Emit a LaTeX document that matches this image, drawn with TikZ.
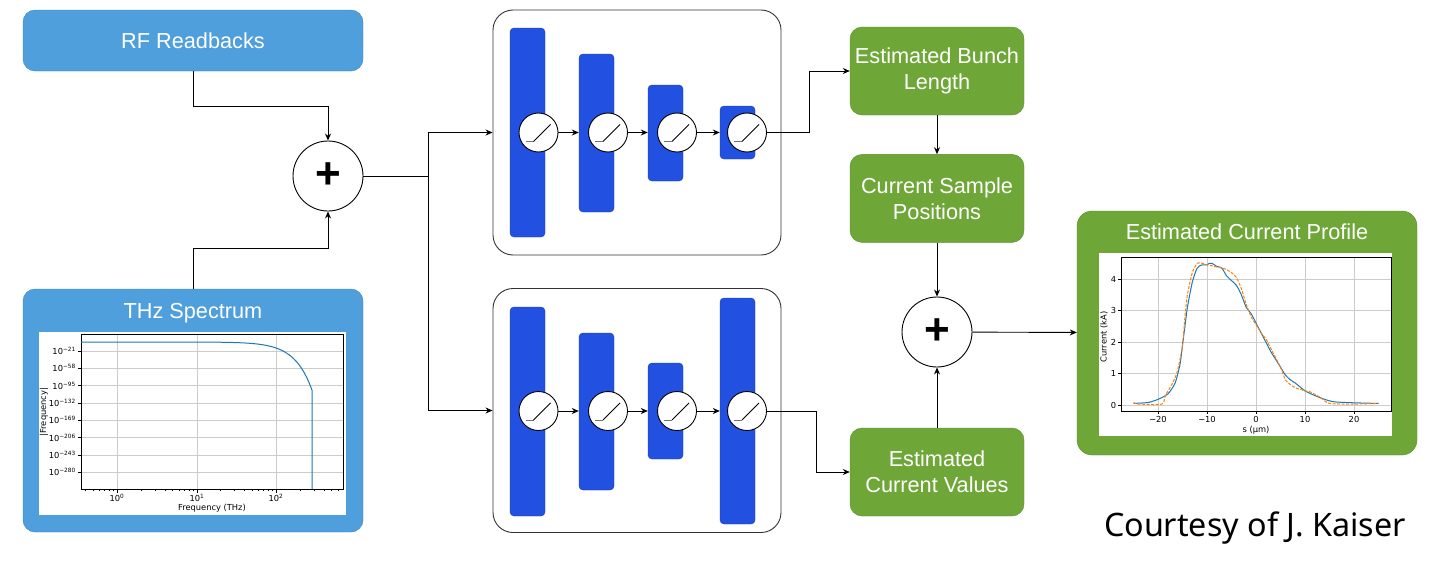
\documentclass[tikz,border=0pt]{standalone}
\usepackage{fontspec}
\setmainfont{Liberation Sans}
\newfontfamily\plotfont{DejaVu Sans}
\newfontfamily\creditfont{Noto Sans}
\usetikzlibrary{arrows.meta,positioning}

\definecolor{inblue}{HTML}{4E9FDC}
\definecolor{inblueline}{HTML}{3A86C4}
\definecolor{outgreen}{HTML}{6EA737}
\definecolor{outgreenline}{HTML}{5A8F2B}
\definecolor{layerblue}{HTML}{2250E0}
\definecolor{layerline}{HTML}{1A3DB8}
\definecolor{plotblue}{HTML}{1F77B4}
\definecolor{plotorange}{HTML}{FF7F0E}

\tikzset{
    arr/.style={-{Stealth[length=7pt,width=6pt]}, line width=0.9pt},
    boxfont/.style={text=white, font=\fontsize{21.7}{26}\selectfont},
    inbox/.style={draw=inblueline, fill=inblue, rounded corners=12pt, boxfont},
    outbox/.style={draw=outgreenline, fill=outgreen, rounded corners=12pt, boxfont, align=center,
            minimum width=174pt, minimum height=88pt},
    netbox/.style={draw=black!80, fill=white, rounded corners=20pt, line width=0.9pt, minimum width=288pt},
    layer/.style={draw=layerline, fill=layerblue, rounded corners=4pt, minimum width=35pt, inner sep=0pt},
    relu/.style={circle, draw, fill=white, minimum size=39pt, inner sep=0pt, line width=0.9pt},
    sumnode/.style={circle, draw, fill=white, minimum size=70pt, inner sep=0pt, line width=0.9pt,
            font=\bfseries\fontsize{44}{44}\selectfont},
    gridline/.style={draw=black!20, line width=0.6pt},
    ticklabel/.style={font=\plotfont\fontsize{8.3}{9}\selectfont, inner sep=1pt},
}

\begin{document}
\begin{tikzpicture}[x=1pt, y=-1pt]
    \useasboundingbox (0,0) rectangle (1432,570);

    % inputs
    \node[inbox, minimum width=340pt, minimum height=61pt] (rf) at (193,40.5) {RF Readbacks};
    \node[inbox, minimum width=340pt, minimum height=243pt] (thz) at (193,410.5) {};
    \node[boxfont, anchor=base] (thztitle) at (193,318) {THz Spectrum};

    % spectrum plot
    \fill[white] (39,332) rectangle (346,515);
    \foreach \x in {117,197,276} {
            \draw[gridline] (\x,334) -- (\x,489);
        }
    \foreach \e [count=\k from 0] in {21,58,95,132,169,206,243,280} {
            \draw[gridline] (81,351+17.3*\k) -- (343,351+17.3*\k);
            \draw[line width=0.6pt] (81,351+17.3*\k) -- ++(-3,0);
            \node[ticklabel, anchor=east] at (77,351+17.3*\k) {10\textsuperscript{−\e}};
        }
    \foreach \d/\lo/\hi in {-1/4/9, 0/2/9, 1/2/9, 2/2/6} {
            \foreach \m in {\lo,...,\hi} {
                    \draw[line width=0.5pt] ({117+79.5*(\d+log10(\m))},489) -- ++(0,2);
                }
        }
    \foreach \x/\e in {117/0, 197/1, 276/2} {
            \draw[line width=0.6pt] (\x,489) -- ++(0,3.5);
            \node[ticklabel, anchor=north] at (\x,493) {10\textsuperscript{\e}};
        }
    \draw[line width=0.6pt] (81,334) rectangle (343,489);
    \draw[plotblue, line width=1pt] plot[domain=81:312, samples=90] (\x, {342+48*exp(4.605*((\x-117)/79.5-2.452))}) -- (312,489);
    \node[ticklabel] at (212,508) {Frequency (THz)};
    \node[ticklabel, rotate=90] at (44,412) {|Frequency|};

    % first sum
    \node[sumnode] (sumin) at (328,176) {+};
    \draw[arr] (rf.south) -- ++(0,35) -| (sumin.north);
    \draw[arr] (thz.north) -- ++(0,-40) -| (sumin.south);

    % networks
    \node[netbox, minimum height=245pt] (netA) at (637,132.5) {};
    \node[netbox, minimum height=244pt] (netB) at (637,410.5) {};
    \draw (sumin.east) -- ++(65,0) coordinate (split);
    \draw[arr] (split) |- (netA.west);
    \draw[arr] (split) |- (netB.west);

    \foreach \n/\bx/\by/\bh/\cx in {1/527.5/132.5/209/538.5, 2/596.5/133/158/608, 3/665.5/133/96/677, 4/737.5/132.5/53/747} {
            \node[layer, minimum height=\bh pt] (a\n) at (\bx,\by) {};
            \node[relu] (ua\n) at (\cx,132.5) {};
            \draw[black!55, line width=1pt] ([shift={(-13,9)}]ua\n.center) -- ++(8,0);
            \draw[line width=1pt] ([shift={(-5,9)}]ua\n.center) -- ++(17,-17);
        }
    \foreach \n/\bx/\by/\bh/\cx in {1/527.5/411.5/209/538.5, 2/596.5/411.5/157/608, 3/665.5/411/96/677, 4/737.5/411/226/747} {
            \node[layer, minimum height=\bh pt] (b\n) at (\bx,\by) {};
            \node[relu] (ub\n) at (\cx,411) {};
            \draw[black!55, line width=1pt] ([shift={(-13,9)}]ub\n.center) -- ++(8,0);
            \draw[line width=1pt] ([shift={(-5,9)}]ub\n.center) -- ++(17,-17);
        }
    \foreach \n [count=\m from 2] in {1,2,3} {
            \draw[arr] (ua\n.east) -- (ua\n.east -| a\m.west);
            \draw[arr] (ub\n.east) -- (ub\n.east -| b\m.west);
        }

    % outputs
    \node[outbox] (bunch) at (937,71) {Estimated Bunch\\Length};
    \node[outbox, below=39pt of bunch] (samples) {Current Sample\\Positions};
    \node[outbox] (values) at (937,472) {Estimated\\Current Values};
    \node[sumnode] (sumout) at (937,332) {+};
    \draw[arr] (ua4.east) -- ++(42,0) |- (bunch.west);
    \draw[arr] (ub4.east) -- ++(49,0) |- (values.west);
    \draw[arr] (bunch) -- (samples);
    \draw[arr] (samples) -- (sumout);
    \draw[arr] (values) -- (sumout);

    % current profile
    \node[outbox, rounded corners=15pt, minimum width=340pt, minimum height=244pt] (profile) at (1247,333) {};
    \node[boxfont, anchor=base] (proftitle) at (1247,239) {Estimated Current Profile};
    \draw[arr] (sumout) -- (profile);
    \fill[white] (1099,253) rectangle (1392,436);
    \begin{scope}[shift={(1256,405)}, x=4.9pt, y=31.5pt]
        \foreach \s/\t in {-20/−20, -10/−10, 0/0, 10/10, 20/20} {
                \draw[gridline] (\s,-0.19) -- (\s,4.7);
                \draw[line width=0.6pt] (\s,-0.19) -- ++(0,-0.11);
                \node[ticklabel, anchor=north] at (\s,-0.33) {\t};
            }
        \foreach \c in {0,...,4} {
                \draw[gridline] (-27.55,\c) -- (27.55,\c);
                \draw[line width=0.6pt] (-27.55,\c) -- ++(-0.6,0);
                \node[ticklabel, anchor=east] at (-28.3,\c) {\c};
            }
        \draw[line width=0.6pt] (-27.55,-0.19) rectangle (27.55,4.7);
        \draw[plotblue, line width=1pt, smooth, tension=0.4] plot coordinates {
                (-25,0.05) (-22,0.08) (-20,0.18) (-18,0.35) (-16.5,0.7) (-15.5,1.3) (-15,1.9)
                (-14.5,2.5) (-14,3.1) (-13,3.9) (-12,4.35) (-11,4.45) (-10,4.45) (-9.5,4.5)
                (-9,4.5) (-8,4.4) (-7,4.35) (-6,4.1) (-5,3.95) (-4,3.8) (-3,3.5) (-2,3.1)
                (-1,2.9) (0,2.6) (1,2.3) (2,2.0) (3,1.7) (4,1.45) (5,1.2) (6,0.95) (7,0.8)
                (8,0.7) (10,0.45) (12,0.3) (14,0.18) (16,0.1) (20,0.07) (25,0.05)};
        \draw[plotorange, line width=1pt, dash pattern=on 3pt off 1.5pt, smooth, tension=0.4] plot coordinates {
                (-25,0.08) (-24,0.03) (-19.2,0.03) (-18.5,0.3) (-17,0.7) (-16,1.1) (-15,1.9)
                (-14.5,2.8) (-14,3.5) (-13,4.2) (-12,4.5) (-11,4.5) (-10,4.45) (-9,4.42)
                (-8,4.38) (-7,4.35) (-6,4.3) (-5,4.2) (-4,4.05) (-3,3.7) (-2,3.2) (-1,2.8)
                (0,2.55) (1,2.3) (2,2.1) (3,1.8) (4,1.5) (5,1.2) (6,0.8) (7,0.65) (8,0.55)
                (10,0.45) (11,0.42) (13,0.25) (15,0.05) (20,0.03) (25,0.05)};
    \end{scope}
    \node[ticklabel] at (1256,430) {s (µm)};
    \node[ticklabel, rotate=90] at (1104,337) {Current (kA)};

    \node[font=\creditfont\fontsize{32.3}{38}\selectfont] (credit) at (1255,528) {Courtesy of J. Kaiser};
\end{tikzpicture}
\end{document}
